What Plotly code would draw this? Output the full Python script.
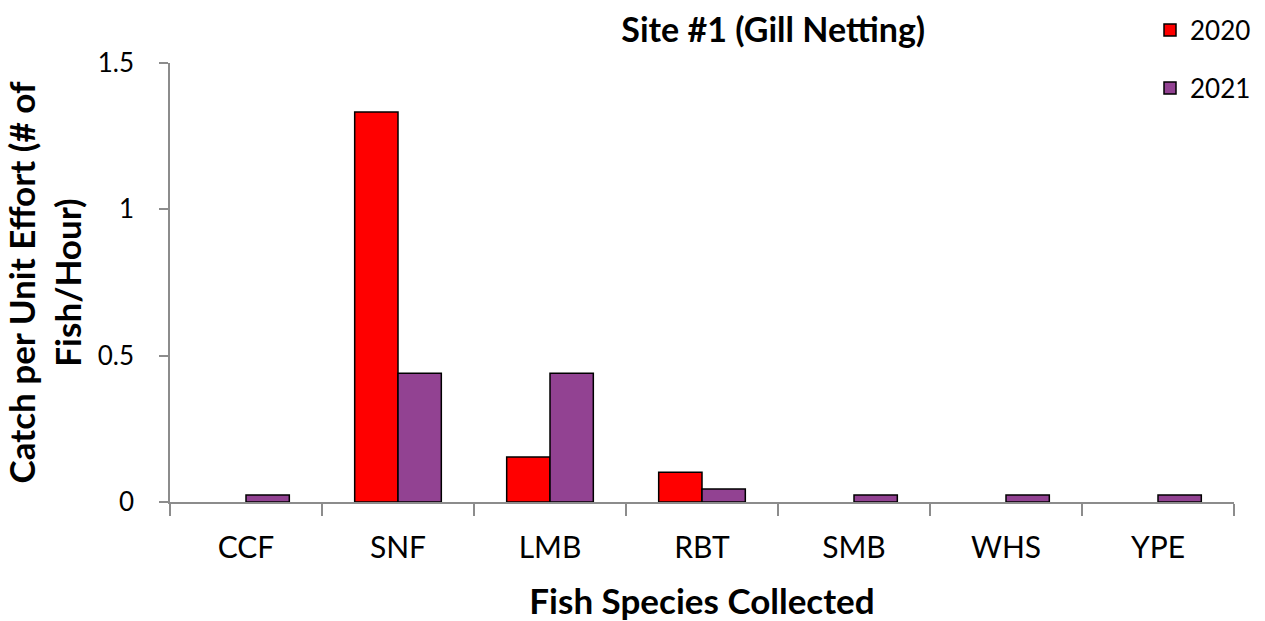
import plotly.graph_objects as go

# Catch per unit effort by species, gill netting at site #1
species = ["CCF", "SNF", "LMB", "RBT", "SMB", "WHS", "YPE"]
cpue_2020 = [0.0, 1.333, 0.154, 0.102, 0.0, 0.0, 0.0]
cpue_2021 = [0.024, 0.44, 0.44, 0.044, 0.024, 0.024, 0.024]
y_ticks = [0, 0.5, 1, 1.5]
y_tick_text = ["0", "0.5", "1", "1.5"]

FONT = "Lato"
AXIS_GRAY = "#8c8c8c"


def no_zero(values):
    # empty catches get no bar at all (not a flat outline on the axis)
    return [v if v else None for v in values]


fig = go.Figure()
fig.add_trace(go.Bar(
    x=species, y=no_zero(cpue_2020), name="2020",
    marker=dict(color="#FF0000", line=dict(color="black", width=1.5)),
    legend="legend", showlegend=True,
))
fig.add_trace(go.Bar(
    x=species, y=no_zero(cpue_2021), name="2021",
    marker=dict(color="#924292", line=dict(color="black", width=1.5)),
    legend="legend2", showlegend=True,
))

legend_common = dict(
    font=dict(family=FONT, size=26, color="black"),
    bgcolor="rgba(0,0,0,0)",
    xanchor="left", yanchor="middle",
    xref="container", yref="container",
    itemwidth=30,
)

fig.update_layout(
    width=1265, height=621,
    showlegend=True,
    margin=dict(l=170, r=31, t=63, b=119, autoexpand=False),
    paper_bgcolor="white", plot_bgcolor="white",
    barmode="group", bargap=0.43, bargroupgap=0,
    font=dict(family=FONT, color="black"),
    title=dict(
        text="<b>Site #1 (Gill Netting)</b>",
        font=dict(family=FONT, size=34, color="black"),
        x=0.567, xref="paper", xanchor="center",
        y=1 - 30 / 621, yref="container", yanchor="middle",
    ),
    legend=dict(x=1150 / 1265, y=1 - 30 / 621, **legend_common),
    legend2=dict(x=1150 / 1265, y=1 - 88 / 621, **legend_common),
    xaxis=dict(
        type="category",
        showline=True, linecolor=AXIS_GRAY, linewidth=1.5,
        ticks="outside", tickson="boundaries", ticklen=12,
        tickcolor=AXIS_GRAY, tickwidth=1.5,
        tickfont=dict(family=FONT, size=30, color="black"),
        ticklabelstandoff=18,
        showgrid=False, zeroline=False,
        title=dict(text="<b>Fish Species Collected</b>",
                   font=dict(family=FONT, size=35, color="black"),
                   standoff=28),
    ),
    yaxis=dict(
        range=[0, 1.5],
        tickvals=y_ticks, ticktext=y_tick_text,
        showline=True, linecolor=AXIS_GRAY, linewidth=1.5,
        ticks="outside", ticklen=9, tickcolor=AXIS_GRAY, tickwidth=1.5,
        tickfont=dict(family=FONT, size=26, color="black"),
        ticklabelstandoff=20,
        showgrid=False, zeroline=False,
        title=dict(text="<b>Catch per Unit Effort (# of<br>Fish/Hour)</b>",
                   font=dict(family=FONT, size=35, color="black"),
                   standoff=12),
    ),
)

fig.write_html("out.html")
